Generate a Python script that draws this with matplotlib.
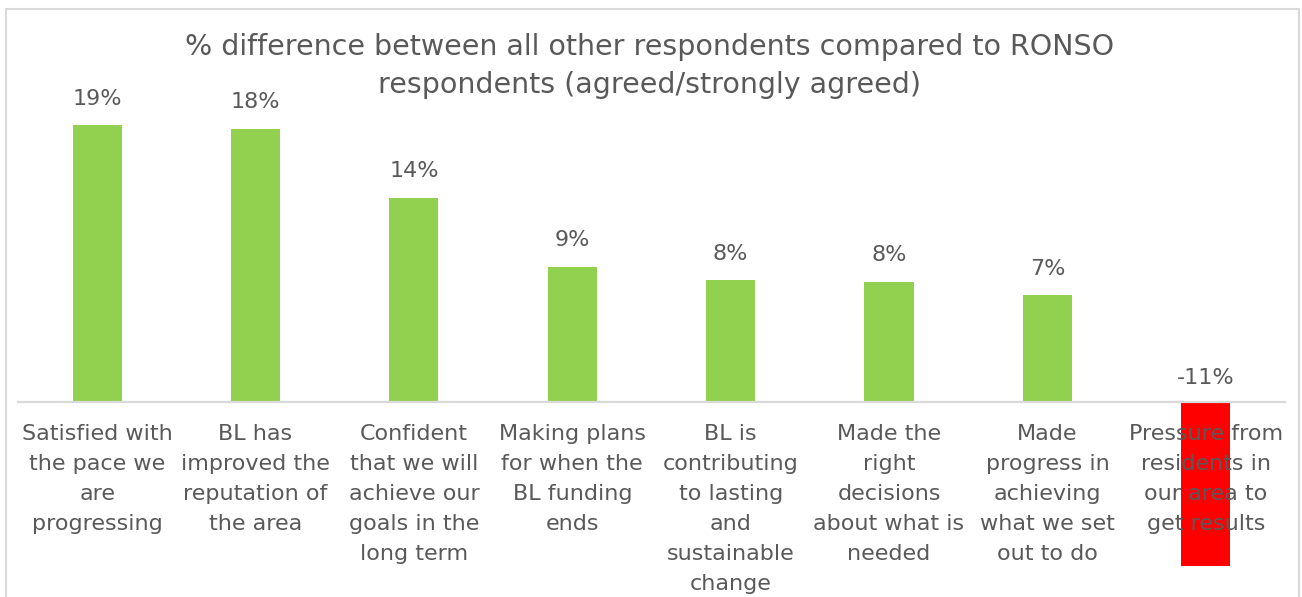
import matplotlib
matplotlib.use("Agg")
import matplotlib.pyplot as plt
from matplotlib.patches import Rectangle

# data
categories = [
    "Satisfied with\nthe pace we\nare\nprogressing",
    "BL has\nimproved the\nreputation of\nthe area",
    "Confident\nthat we will\nachieve our\ngoals in the\nlong term",
    "Making plans\nfor when the\nBL funding\nends",
    "BL is\ncontributing\nto lasting\nand\nsustainable\nchange",
    "Made the\nright\ndecisions\nabout what is\nneeded",
    "Made\nprogress in\nachieving\nwhat we set\nout to do",
    "Pressure from\nresidents in\nour area to\nget results",
]
values = [19.0, 18.76, 14.0, 9.29, 8.35, 8.24, 7.32, -11.26]
title_lines = ["% difference between all other respondents compared to RONSO",
               "respondents (agreed/strongly agreed)"]

txt = "#595959"
green = "#92D050"
red = "#FF0000"
grey = "#D9D9D9"

plt.rcParams['font.family'] = ['DejaVu Sans']

fig = plt.figure(figsize=(13.02, 5.97), dpi=100)
ax = fig.add_axes([0.0138, 0.0338, 0.9731, 0.7809])

x = list(range(len(values)))
colors = [green if v >= 0 else red for v in values]
ax.bar(x, values, width=0.31, color=colors, zorder=1)

ax.set_xlim(-0.5, len(values) - 0.5)
ax.set_ylim(-12, 20)

for s in ['top', 'left', 'right']:
    ax.spines[s].set_visible(False)
ax.spines['bottom'].set_position(('data', 0))
ax.spines['bottom'].set_color(grey)
ax.spines['bottom'].set_linewidth(1.6)
ax.set_yticks([])
ax.set_xticks(x)
ax.set_xticklabels(categories, fontsize=16, color=txt, linespacing=1.62)
ax.tick_params(axis='x', length=0, pad=16)

for i, v in enumerate(values):
    off = 12 if v >= 0 else 10
    ax.annotate(f"{int(v)}%", xy=(i, max(v, 0)), xytext=(0, off),
                textcoords='offset points', ha='center', va='bottom',
                fontsize=16, color=txt)

# title, one text per line
fig.text(0.4992, 1 - 47 / 597, title_lines[0], ha='center', va='center',
         fontsize=20.5, color=txt)
fig.text(0.4992, 1 - 85 / 597, title_lines[1], ha='center', va='center',
         fontsize=20.5, color=txt)

# chart border
fig.add_artist(Rectangle((6 / 1302, -0.05), 1293 / 1302, 1.05 - 9 / 597,
                         transform=fig.transFigure, fill=False,
                         edgecolor=grey, linewidth=1.5))

fig.savefig("out.png", dpi=100)
